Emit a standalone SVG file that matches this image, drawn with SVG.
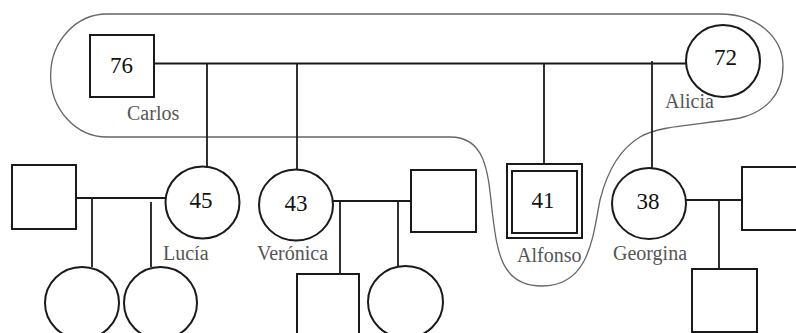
<svg xmlns="http://www.w3.org/2000/svg" width="796" height="333" viewBox="0 0 796 333">
<style>
.n{fill:#fff;stroke:#1a1a1a;stroke-width:2}
.c{fill:none;stroke:#1a1a1a;stroke-width:1.8}
.enc{fill:none;stroke:#666;stroke-width:1.3}
.num{font-family:"Liberation Serif","Times New Roman",serif;font-size:23px;fill:#111;text-anchor:middle}
.nm{font-family:"Liberation Serif","Times New Roman",serif;font-size:20px;fill:#555}
</style>
<rect width="796" height="333" fill="#fff"/>
<path id="enclosure" class="enc" d="M107,14 H720 C758,14 783,38 783,66 C783,95 765,112 740,118 C700,125 660,125 640,137 C615,152 605,180 600,200 C593,235 590,286 542,286 C500,286 497,250 492,210 C488,170 485,137 450,137 H107 A55,60 0 0 1 107,14 Z"/>
<g id="connectors">
<path class="c" d="M154,63.5 H687"/>
<path class="c" d="M207,63.5 V167"/>
<path class="c" d="M297,63.5 V170"/>
<path class="c" d="M544,63.5 V164"/>
<path class="c" d="M652,61 V168"/>
<path class="c" d="M76,198 H166"/>
<path class="c" d="M92,198 V267"/>
<path class="c" d="M151,202 V267"/>
<path class="c" d="M333,201 H411"/>
<path class="c" d="M340,201 V274"/>
<path class="c" d="M398,201 V266"/>
<path class="c" d="M686,200 H742"/>
<path class="c" d="M719,200 V269"/>
</g>
<g id="carlos"><rect class="n" x="90" y="35" width="64" height="62"/><text class="num" x="121.5" y="72.5">76</text><text class="nm" x="127" y="120">Carlos</text></g>
<g id="alicia"><ellipse class="n" cx="723" cy="61" rx="37" ry="36"/><text class="num" x="725.5" y="65">72</text><text class="nm" x="665" y="108">Alicia</text></g>
<g id="lucia-husband"><rect class="n" x="12" y="165" width="64" height="64"/></g>
<g id="lucia"><ellipse class="n" cx="202.5" cy="202.5" rx="37" ry="36"/><text class="num" x="201" y="208">45</text><text class="nm" x="163" y="260">Lucía</text></g>
<g id="lucia-child1"><ellipse class="n" cx="82" cy="303" rx="37" ry="36"/></g>
<g id="lucia-child2"><ellipse class="n" cx="160.5" cy="303" rx="36.5" ry="36"/></g>
<g id="veronica"><ellipse class="n" cx="296" cy="205" rx="37" ry="35.5"/><text class="num" x="296" y="211">43</text><text class="nm" x="257" y="260">Verónica</text></g>
<g id="veronica-husband"><rect class="n" x="411" y="170" width="65" height="62"/></g>
<g id="veronica-child1"><rect class="n" x="297" y="274" width="62" height="66"/></g>
<g id="veronica-child2"><ellipse class="n" cx="405.5" cy="302" rx="37.5" ry="36"/></g>
<g id="alfonso"><rect class="n" x="507" y="164" width="75" height="74"/><rect class="n" x="512" y="171" width="65" height="62"/><text class="num" x="543" y="208">41</text><text class="nm" x="517" y="262">Alfonso</text></g>
<g id="georgina"><ellipse class="n" cx="649" cy="203.5" rx="37" ry="35.5"/><text class="num" x="648" y="209">38</text><text class="nm" x="613" y="260">Georgina</text></g>
<g id="georgina-husband"><rect class="n" x="742" y="167" width="62" height="63"/></g>
<g id="georgina-child"><rect class="n" x="692" y="269" width="65" height="63"/></g>
</svg>
